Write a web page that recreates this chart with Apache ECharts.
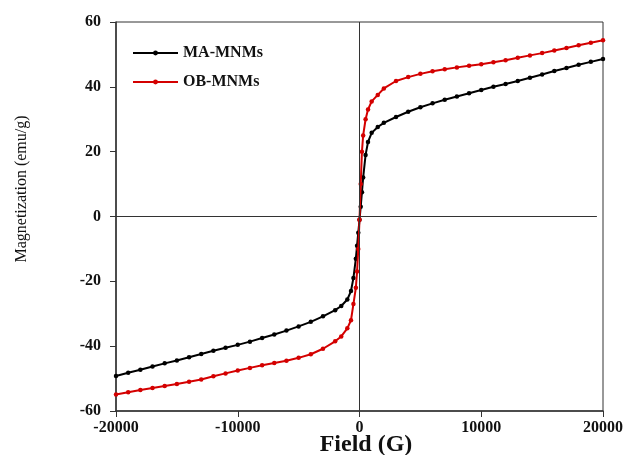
<!DOCTYPE html>
<html>
<head>
<meta charset="utf-8">
<script src="https://cdn.jsdelivr.net/npm/echarts@6/dist/echarts.min.js"></script>
<style>
  html, body { margin: 0; padding: 0; background: #fff; }
  #chart { width: 631px; height: 455px; }
</style>
</head>
<body>
<div id="chart"></div>
<script>
// Applied field (G)
const fields = [
  -20000, -19000, -18000, -17000, -16000, -15000, -14000, -13000, -12000, -11000,
  -10000, -9000, -8000, -7000, -6000, -5000, -4000, -3000, -2000, -1500,
  -1000, -700, -500, -300, -200, -100, 0, 100, 200, 300,
  500, 700, 1000, 1500, 2000, 3000, 4000, 5000, 6000, 7000,
  8000, 9000, 10000, 11000, 12000, 13000, 14000, 15000, 16000, 17000,
  18000, 19000, 20000
];

// Magnetization (emu/g)
const maMNMs = [
  -49.2, -48.2, -47.3, -46.3, -45.3, -44.4, -43.4, -42.4, -41.4, -40.5,
  -39.6, -38.6, -37.5, -36.4, -35.2, -33.9, -32.5, -30.8, -28.9, -27.6,
  -25.6, -23.0, -19.0, -13.0, -9.0, -5.0, -1.0, 3.0, 7.5, 12.0,
  19.0, 23.0, 25.8, 27.6, 28.9, 30.7, 32.3, 33.7, 34.9, 36.0,
  37.0, 38.0, 39.0, 40.0, 40.9, 41.8, 42.8, 43.8, 44.9, 45.8,
  46.8, 47.7, 48.6
];

const obMNMs = [
  -54.9, -54.2, -53.5, -52.9, -52.3, -51.7, -51.0, -50.3, -49.3, -48.4,
  -47.5, -46.7, -45.9, -45.2, -44.5, -43.6, -42.5, -40.8, -38.5, -37.0,
  -34.5, -32.0, -27.0, -22.0, -17.0, -10.0, -1.0, 10.0, 20.0, 25.0,
  30.0, 33.0, 35.5, 37.5, 39.5, 41.8, 43.0, 44.0, 44.8, 45.4,
  46.0, 46.5, 47.0, 47.6, 48.2, 49.0, 49.7, 50.4, 51.2, 52.0,
  52.8, 53.6, 54.4
];

const seriesNames = ['MA-MNMs', 'OB-MNMs'];
const seriesColors = ['#000000', '#d40000'];
const xTitle = 'Field (G)';
const yTitle = 'Magnetization (emu/g)';

const serif = '"Liberation Serif", "Times New Roman", serif';
const axisColor = '#333333';

function pairs(xs, ys) { return xs.map((x, i) => [x, ys[i]]); }

const chart = echarts.init(document.getElementById('chart'), null, { renderer: 'canvas' });

chart.setOption({
  animation: false,
  backgroundColor: '#ffffff',
  grid: {
    left: 116, top: 22, right: 28, bottom: 44,
    show: true, borderColor: axisColor, borderWidth: 1, backgroundColor: 'transparent'
  },
  legend: {
    orient: 'vertical',
    left: 127, top: 40,
    itemWidth: 45, itemHeight: 6, itemGap: 13,
    data: seriesNames,
    itemStyle: { borderWidth: 0 },
    textStyle: { fontFamily: serif, fontWeight: 'bold', fontSize: 16, color: '#111' }
  },
  xAxis: {
    type: 'value', min: -20000, max: 20000, interval: 10000,
    axisLine: { show: true, onZero: false, lineStyle: { color: axisColor, width: 1.5 } },
    axisTick: { show: true, inside: false, length: 6, lineStyle: { color: axisColor } },
    splitLine: { show: false },
    axisLabel: {
      margin: 9, fontFamily: serif, fontWeight: 'bold', fontSize: 16, color: '#111',
      formatter: v => String(v)
    }
  },
  yAxis: {
    type: 'value', min: -60, max: 60, interval: 20,
    axisLine: { show: true, onZero: false, lineStyle: { color: axisColor, width: 1.5 } },
    axisTick: { show: true, inside: false, length: 6, lineStyle: { color: axisColor } },
    splitLine: { show: false },
    axisLabel: { margin: 15, fontFamily: serif, fontWeight: 'bold', fontSize: 16, color: '#111' }
  },
  graphic: [
    {
      type: 'text', x: 22, y: 189, rotation: Math.PI / 2,
      style: {
        text: yTitle, fontFamily: serif, fontSize: 16, fill: '#111',
        textAlign: 'center', textVerticalAlign: 'middle'
      }
    },
    {
      type: 'text', x: 366, y: 445,
      style: {
        text: xTitle, fontFamily: serif, fontWeight: 'bold', fontSize: 24, fill: '#111',
        textAlign: 'center', textVerticalAlign: 'middle'
      }
    }
  ],
  series: [
    {
      name: seriesNames[0], type: 'line', data: pairs(fields, maMNMs),
      color: seriesColors[0],
      lineStyle: { width: 2 }, symbol: 'circle', symbolSize: 4.5, showSymbol: true,
      markLine: {
        silent: true, symbol: 'none', label: { show: false },
        lineStyle: { color: axisColor, width: 1, type: 'solid' },
        data: [
          { xAxis: 0 },
          [{ coord: [-20000, 0] }, { coord: [19500, 0] }]
        ]
      },
      z: 2
    },
    {
      name: seriesNames[1], type: 'line', data: pairs(fields, obMNMs),
      color: seriesColors[1],
      lineStyle: { width: 2 }, symbol: 'circle', symbolSize: 4.5, showSymbol: true,
      z: 3
    }
  ]
});
</script>
</body>
</html>
